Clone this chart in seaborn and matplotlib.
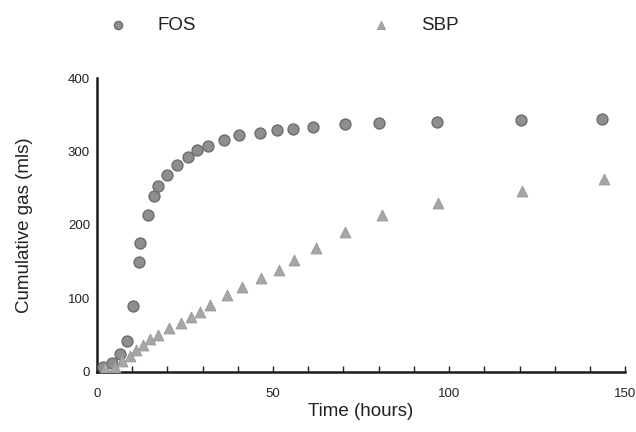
import seaborn as sns
import matplotlib.pyplot as plt
import pandas as pd

fos_time = [1.8, 4.3, 6.5, 8.6, 10.3, 11.9, 12.2, 14.4, 16.3, 17.4, 19.9, 22.8, 25.8,
            28.3, 31.4, 36.2, 40.4, 46.3, 51.0, 55.6, 61.4, 70.3, 80.0, 96.5, 120.5, 143.5]
fos_gas = [6.8, 11.5, 24, 42, 90, 150, 176, 213, 239, 253, 268, 282, 293,
           302, 308, 316, 322, 325, 329, 331, 334, 338, 339, 341, 343, 345]

sbp_time = [2.3, 5.1, 7.2, 9.4, 11.1, 13.0, 15.1, 17.4, 20.5, 23.9, 26.7, 29.3,
            32.1, 36.8, 41.2, 46.6, 51.7, 55.9, 62.1, 70.5, 80.9, 96.9, 120.8, 144.0]
sbp_gas = [4.6, 6.8, 14.6, 22, 29.6, 36, 45, 50, 59, 66, 75, 81,
           91, 104, 115, 128, 138, 152, 168, 190, 213, 230, 246, 263]

df = pd.concat([
    pd.DataFrame({'time': fos_time, 'gas': fos_gas, 'group': 'FOS'}),
    pd.DataFrame({'time': sbp_time, 'gas': sbp_gas, 'group': 'SBP'}),
])

sns.set_style('ticks')
plt.rcParams['font.family'] = ['Liberation Sans', 'DejaVu Sans']

fig = plt.figure(figsize=(6.36, 4.32), dpi=100)
ax = fig.add_axes([0.1525, 0.1396, 0.8305, 0.6792])

sns.scatterplot(data=df[df.group == 'FOS'], x='time', y='gas', ax=ax, marker='o',
                s=62, color='#8e8e8e', edgecolor='#6e6e6e', linewidth=1.0, label='FOS', zorder=3)
sns.scatterplot(data=df[df.group == 'SBP'], x='time', y='gas', ax=ax, marker='^',
                s=62, color='#a6a6a6', edgecolor='#999999', linewidth=0.6, label='SBP', zorder=3)

ax.set_xlim(0, 150)
ax.set_ylim(0, 400)
ax.set_xticks([0, 50, 100, 150])
ax.set_xticks(range(0, 151, 10), minor=True)
ax.set_yticks([0, 100, 200, 300, 400])
ax.tick_params(axis='x', which='both', direction='in', length=4, width=1, color='#222222',
               labelsize=9.5, labelcolor='#222222', pad=12)
ax.tick_params(axis='y', which='both', direction='in', length=0, labelsize=9.5,
               labelcolor='#222222', pad=5)
for side in ['left', 'bottom']:
    ax.spines[side].set_linewidth(1.8)
    ax.spines[side].set_color('#1a1a1a')
sns.despine(ax=ax)

ax.set_xlabel('Time (hours)', fontsize=13.5, color='#222222', labelpad=2)
ax.set_ylabel('Cumulative gas (mls)', fontsize=13.5, color='#222222', labelpad=25)

ax.get_legend().remove()
handles, labels = ax.get_legend_handles_labels()
fig.legend(handles, labels, loc='center left', bbox_to_anchor=(108.6 / 636, 1 - 25 / 432),
           ncol=2, frameon=False, fontsize=13.5, handlelength=1, handletextpad=1.6,
           columnspacing=9.4, borderpad=0, borderaxespad=0, markerscale=0.75,
           labelcolor='#222222')

fig.savefig('out.png', dpi=100)
